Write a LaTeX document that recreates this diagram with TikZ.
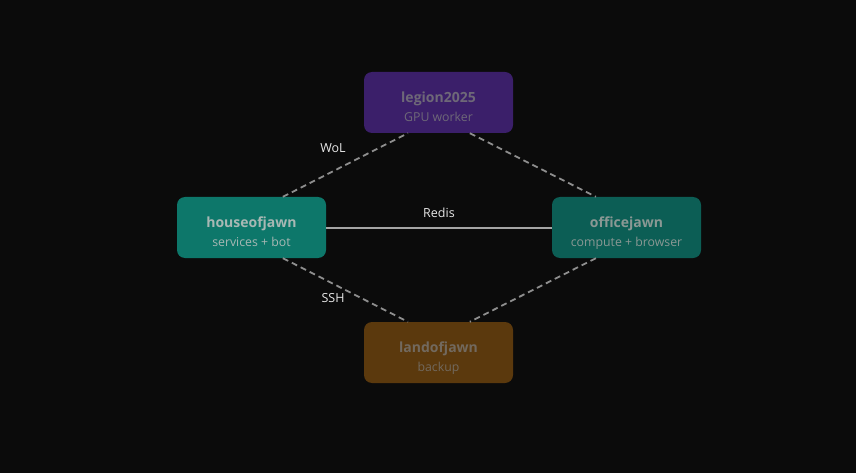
\documentclass[tikz,border=0pt]{standalone}
\usepackage{fontspec}
\setmainfont{Open Sans}
\usetikzlibrary{calc}
\definecolor{bg}{HTML}{0B0B0B}
\definecolor{cpurple}{HTML}{3B1F6A}
\definecolor{cteal}{HTML}{0D776A}
\definecolor{cdteal}{HTML}{0C5E55}
\definecolor{cbrown}{HTML}{5B390D}
\definecolor{linec}{HTML}{8E8E8E}
\definecolor{lblc}{HTML}{E8E8E8}
\definecolor{tpurple}{HTML}{6E6878}
\definecolor{tteal}{HTML}{A8B8B4}
\definecolor{tdteal}{HTML}{8A9894}
\definecolor{tbrown}{HTML}{72695E}
\tikzset{
  hostbox/.style={rounded corners=8pt, minimum width=149pt, minimum height=61pt, inner sep=0pt, draw=none},
  titletext/.style={anchor=base, inner sep=0pt, font=\fontsize{14}{16}\selectfont\bfseries},
  subtext/.style={anchor=base, inner sep=0pt, font=\fontsize{12.3}{14}\selectfont},
  dashlink/.style={draw=linec, line width=1.8pt, dash pattern=on 6pt off 4pt},
  solidlink/.style={draw=linec!80!white, line width=2pt},
  lbl/.style={text=lblc, font=\fontsize{12.5}{14}\selectfont, inner sep=0pt},
}
\begin{document}
\begin{tikzpicture}[x=1pt,y=-1pt]
\fill[bg] (0,0) rectangle (856,473);
\useasboundingbox (0,0) rectangle (856,473);
\node[hostbox, fill=cpurple] (legion) at (438.5,102.5) {};
\node[hostbox, fill=cteal] (house) at (251.5,227.5) {};
\node[hostbox, fill=cdteal] (office) at (626.5,227.5) {};
\node[hostbox, fill=cbrown] (land) at (438.5,352.5) {};
\node[titletext, text=tpurple] (legionT) at ($(legion.center)+(0,0.3)$) {legion2025};
\node[subtext, text=tpurple] (legionS) at ($(legion.center)+(0,18.6)$) {GPU worker};
\node[titletext, text=tteal] (houseT) at ($(house.center)+(0,0.3)$) {houseofjawn};
\node[subtext, text=tteal] (houseS) at ($(house.center)+(0,18.6)$) {services + bot};
\node[titletext, text=tdteal] (officeT) at ($(office.center)+(0,0.3)$) {officejawn};
\node[subtext, text=tdteal] (officeS) at ($(office.center)+(0,18.6)$) {compute + browser};
\node[titletext, text=tbrown] (landT) at ($(land.center)+(0,0.3)$) {landofjawn};
\node[subtext, text=tbrown] (landS) at ($(land.center)+(0,18.6)$) {backup};
\draw[dashlink] ($(house.north west)!0.71!(house.north east)$) -- ($(legion.south west)!0.295!(legion.south east)$);
\draw[dashlink] ($(legion.south west)!0.71!(legion.south east)$) -- ($(office.north west)!0.295!(office.north east)$);
\draw[dashlink] ($(house.south west)!0.71!(house.south east)$) -- ($(land.north west)!0.295!(land.north east)$);
\draw[dashlink] ($(office.south west)!0.295!(office.south east)$) -- ($(land.north west)!0.71!(land.north east)$);
\draw[solidlink] (house.east) -- (office.west);
\node[lbl] (wol) at (333,148) {WoL};
\node[lbl] (redis) at (439,213) {Redis};
\node[lbl] (ssh) at (333,298) {SSH};
\end{tikzpicture}
\end{document}
